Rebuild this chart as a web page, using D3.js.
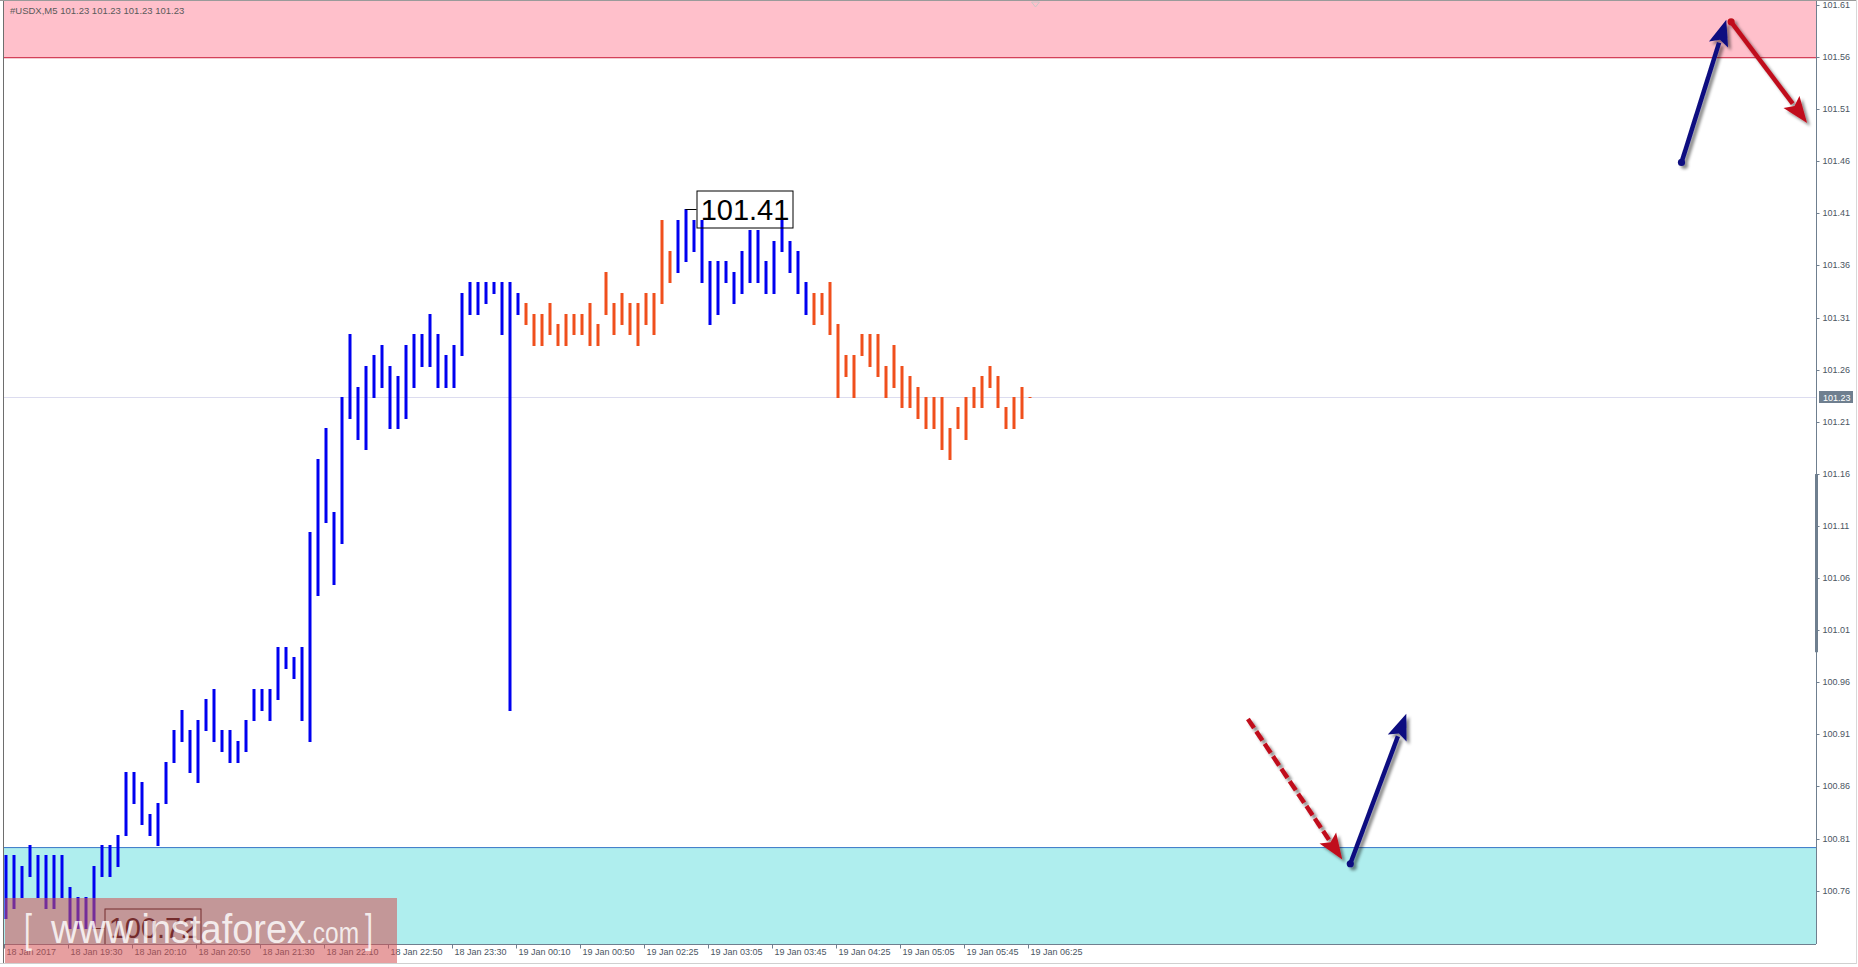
<!DOCTYPE html>
<html><head><meta charset="utf-8">
<script src="https://cdn.jsdelivr.net/npm/d3@7"></script>
<style>html,body{margin:0;padding:0;background:#fff;overflow:hidden}</style>
</head><body>
<svg id="c" width="1858" height="967"></svg>
<script>
// ---------- DATA ----------
const symbolTitle = "#USDX,M5  101.23 101.23 101.23 101.23";
const barHigh = [100.79,100.79,100.78,100.80,100.79,100.79,100.79,100.79,100.76,100.75,100.75,100.78,100.80,100.80,100.81,100.87,100.87,100.86,100.83,100.84,100.88,100.91,100.93,100.91,100.92,100.94,100.95,100.91,100.91,100.90,100.92,100.95,100.95,100.95,100.99,100.99,100.98,100.99,101.10,101.17,101.20,101.12,101.23,101.29,101.24,101.26,101.27,101.28,101.26,101.25,101.28,101.29,101.29,101.31,101.29,101.27,101.28,101.33,101.34,101.34,101.34,101.34,101.34,101.34,101.33,101.32,101.31,101.31,101.32,101.30,101.31,101.31,101.31,101.32,101.30,101.35,101.32,101.33,101.32,101.32,101.33,101.33,101.40,101.37,101.40,101.41,101.40,101.40,101.36,101.36,101.36,101.35,101.37,101.39,101.39,101.36,101.38,101.40,101.38,101.37,101.34,101.33,101.33,101.34,101.30,101.27,101.27,101.29,101.29,101.29,101.26,101.28,101.26,101.25,101.24,101.23,101.23,101.23,101.20,101.22,101.23,101.24,101.25,101.26,101.25,101.22,101.23,101.24,101.23];
const barLow = [100.73,100.74,100.75,100.77,100.75,100.74,100.74,100.75,100.72,100.72,100.72,100.72,100.77,100.77,100.78,100.81,100.84,100.82,100.81,100.80,100.84,100.88,100.90,100.87,100.86,100.91,100.90,100.89,100.88,100.88,100.89,100.92,100.93,100.92,100.94,100.97,100.96,100.92,100.90,101.04,101.11,101.05,101.09,101.21,101.19,101.18,101.23,101.24,101.20,101.20,101.21,101.24,101.26,101.26,101.24,101.24,101.24,101.27,101.31,101.31,101.32,101.33,101.29,100.93,101.31,101.30,101.28,101.28,101.29,101.28,101.28,101.29,101.29,101.28,101.28,101.31,101.29,101.30,101.29,101.28,101.30,101.29,101.32,101.34,101.35,101.36,101.37,101.34,101.30,101.31,101.34,101.32,101.33,101.34,101.34,101.33,101.33,101.37,101.35,101.33,101.31,101.30,101.31,101.29,101.23,101.25,101.23,101.27,101.26,101.25,101.23,101.24,101.22,101.22,101.21,101.20,101.20,101.18,101.17,101.20,101.19,101.22,101.22,101.24,101.22,101.20,101.20,101.21,101.23];
// wave segments: first bar index of each segment and its direction
const waveStart = [0, 65, 84, 101];
const waveDir = ["up", "down", "up", "down"];
const timeTickBars = [0,8,16,24,32,40,48,56,64,72,80,88,96,104,112,120,128];
const timeTickLabels = ["18 Jan 2017","18 Jan 19:30","18 Jan 20:10","18 Jan 20:50","18 Jan 21:30","18 Jan 22:10","18 Jan 22:50","18 Jan 23:30","19 Jan 00:10","19 Jan 00:50","19 Jan 02:25","19 Jan 03:05","19 Jan 03:45","19 Jan 04:25","19 Jan 05:05","19 Jan 05:45","19 Jan 06:25"];
const priceTicks = [101.61,101.56,101.51,101.46,101.41,101.36,101.31,101.26,101.21,101.16,101.11,101.06,101.01,100.96,100.91,100.86,100.81,100.76];
const lastPrice = 101.23;
const scaleMarker = [100.985, 101.156];
const resistanceZone = [101.556, 101.62];
const supportZone = [100.70, 100.798];
// price callouts: [bar index, price]
const callouts = [[85, 101.41], [11, 100.72]];
// forecast arrows: [barFrom, priceFrom, barTo, priceTo, direction, dashed]
const forecastArrows = [
  [155.3, 100.921, 167.1, 100.786, "down", true],
  [168.1, 100.782, 175.1, 100.926, "up", false],
  [209.5, 101.455, 215.1, 101.592, "up", false],
  [215.7, 101.590, 225.2, 101.493, "down", false]
];
const watermarkParts = ["[", "www.instaforex", ".com", "]"];

// ---------- LAYOUT ----------
const W = 1858, H = 967;
const plot = {l: 4, r: 1816, t: 1, b: 944};
const x = d3.scaleLinear().domain([0, 128]).range([5.5, 5.5 + 8*128]);
const y = d3.scaleLinear().domain([100.705, 101.609]).range([944, 2]);
const colUp = "#0000f0", colDown = "#f04f1c";
const FONT = "'Liberation Sans',Arial,sans-serif";

const svg = d3.select("#c");
const defs = svg.append("defs");
const clip = defs.append("clipPath").attr("id","plotclip");
clip.append("rect").attr("x",plot.l).attr("y",plot.t).attr("width",plot.r-plot.l).attr("height",plot.b-plot.t);
const sh = defs.append("filter").attr("id","shadow").attr("x","-20%").attr("y","-20%").attr("width","140%").attr("height","140%");
sh.append("feDropShadow").attr("dx",3).attr("dy",3).attr("stdDeviation",1.6).attr("flood-color","#000").attr("flood-opacity",0.45);

svg.append("rect").attr("width",W).attr("height",H).attr("fill","#fff");

const g = svg.append("g").attr("clip-path","url(#plotclip)");

// zones
g.append("rect").attr("x",plot.l).attr("width",plot.r-plot.l)
  .attr("y",y(resistanceZone[1])).attr("height",y(resistanceZone[0])-y(resistanceZone[1]))
  .attr("fill","#ffc0cb");
g.append("line").attr("x1",plot.l).attr("x2",plot.r).attr("y1",y(resistanceZone[0])+0.5).attr("y2",y(resistanceZone[0])+0.5)
  .attr("stroke","#c8102e").attr("stroke-width",1);
g.append("rect").attr("x",plot.l).attr("width",plot.r-plot.l)
  .attr("y",y(supportZone[1])).attr("height",y(supportZone[0])-y(supportZone[1]))
  .attr("fill","#afeeee");
g.append("line").attr("x1",plot.l).attr("x2",plot.r).attr("y1",y(supportZone[1])+0.5).attr("y2",y(supportZone[1])+0.5)
  .attr("stroke","#3c78c8").attr("stroke-width",1);

// last price line
g.append("line").attr("x1",plot.l).attr("x2",plot.r).attr("y1",Math.round(y(lastPrice))+0.5).attr("y2",Math.round(y(lastPrice))+0.5)
  .attr("stroke","#dcdcef").attr("stroke-width",1);

// chart shift marker
g.append("path").attr("d",`M${x(128)+2},2 L${x(128)+10},2 L${x(128)+6},7 Z`).attr("fill","none").attr("stroke","#c8c8c8");

// bars
function dirOf(i){ let d = waveDir[0]; waveStart.forEach((s,k)=>{ if(i>=s) d = waveDir[k]; }); return d; }
g.append("g").selectAll("rect").data(barHigh.map((h,i)=>({i,h,l:barLow[i]}))).join("rect")
  .attr("x",d=>Math.round(x(d.i))-1.5)
  .attr("width",3)
  .attr("y",d=>Math.round(y(d.h)))
  .attr("height",d=>Math.max(1, Math.round(y(d.l))-Math.round(y(d.h))+1))
  .attr("fill",d=>dirOf(d.i)==="up"?colUp:colDown);

// callouts
callouts.forEach(([bi, p])=>{
  const bx = x(bi), by = Math.round(y(p))+0.5;
  const boxX = bx + 11, boxW = 96, boxH = 37;
  const boxY = p > 101 ? by - 18.5 : by - 19.5;
  g.append("line").attr("x1",bx).attr("x2",boxX).attr("y1",by).attr("y2",by).attr("stroke","#000").attr("stroke-width",1);
  g.append("rect").attr("x",boxX+0.5).attr("y",boxY).attr("width",boxW).attr("height",boxH)
    .attr("fill","none").attr("stroke","#000").attr("stroke-width",1);
  g.append("text").attr("x",boxX+boxW/2+0.5).attr("y",boxY+boxH/2+10.5).attr("text-anchor","middle")
    .attr("font-family",FONT).attr("font-size",29).attr("fill","#000").text(p.toFixed(2));
});

// forecast arrows
const arrowG = svg.append("g");
forecastArrows.forEach(([b1,p1,b2,p2,dir,dashed])=>{
  const col = dir==="up" ? "#101080" : "#c0101c";
  const x1 = x(b1), y1 = y(p1), x2 = x(b2), y2 = y(p2);
  const dx = x2-x1, dy = y2-y1, len = Math.hypot(dx,dy), ux = dx/len, uy = dy/len;
  const hl = 26, hw = 20;
  const bxp = x2 - ux*hl, byp = y2 - uy*hl;
  const a = arrowG.append("g").attr("filter","url(#shadow)");
  a.append("line").attr("x1",x1).attr("y1",y1).attr("x2",bxp+ux*2).attr("y2",byp+uy*2)
    .attr("stroke",col).attr("stroke-width",4.5).attr("stroke-dasharray",dashed?"11,4":null);
  a.append("path").attr("d",`M${x2},${y2} L${bxp - uy*hw/2},${byp + ux*hw/2} L${bxp + ux*5},${byp + uy*5} L${bxp + uy*hw/2},${byp - ux*hw/2} Z`)
    .attr("fill",col);
  if(!dashed) a.append("circle").attr("cx",x1).attr("cy",y1).attr("r",3.6).attr("fill",col);
});

// frame
svg.append("line").attr("x1",3.5).attr("x2",3.5).attr("y1",0).attr("y2",963).attr("stroke","#6e6e6e");
svg.append("line").attr("x1",0).attr("x2",1857).attr("y1",0.5).attr("y2",0.5).attr("stroke","#9a9a9a");
svg.append("line").attr("x1",0).attr("x2",1857).attr("y1",963.5).attr("y2",963.5).attr("stroke","#d0d0d0");
svg.append("line").attr("x1",1856.5).attr("x2",1856.5).attr("y1",0).attr("y2",964).attr("stroke","#d8d8d8");

// y axis
const yAx = svg.append("g").attr("transform",`translate(${plot.r+0.5},0)`)
  .call(d3.axisRight(y).tickValues(priceTicks).tickSize(3).tickPadding(3).tickFormat(d3.format(".2f")));
yAx.select(".domain").attr("stroke","#6f7f8f").attr("d",`M0,${plot.t}V${plot.b}`);
yAx.selectAll(".tick").attr("transform",d=>`translate(0,${Math.round(y(d))+4.5})`);
yAx.selectAll(".tick line").attr("stroke","#6f7f8f");
yAx.selectAll(".tick text").attr("font-family",FONT).attr("font-size",9).attr("fill","#4a5562");
// scale marker bar
svg.append("line").attr("x1",plot.r+0.5).attr("x2",plot.r+0.5).attr("y1",y(scaleMarker[1])).attr("y2",y(scaleMarker[0])).attr("stroke","#6f7f8f").attr("stroke-width",3);
// last price label
const lp = svg.append("g").attr("transform",`translate(${plot.r+3},${Math.round(y(lastPrice))})`);
lp.append("rect").attr("x",0).attr("y",-6).attr("width",34).attr("height",12).attr("fill","#6f7f8f");
lp.append("text").attr("x",4).attr("y",3.5).attr("font-family",FONT).attr("font-size",9).attr("fill","#fff").text(lastPrice.toFixed(2));

// x axis
const xAx = svg.append("g").attr("transform",`translate(0,${plot.b+0.5})`)
  .call(d3.axisBottom(x).tickValues(timeTickBars).tickSize(4).tickFormat((d,i)=>timeTickLabels[i]));
xAx.select(".domain").attr("stroke","#6f7f8f").attr("d",`M${plot.l},0H${plot.r}`);
xAx.selectAll(".tick").attr("transform",d=>`translate(${Math.round(x(d))-1.5},0)`);
xAx.selectAll(".tick line").attr("stroke","#6f7f8f");
xAx.selectAll(".tick text").attr("text-anchor","start").attr("x",2).attr("y",4).attr("dy","0.71em")
  .attr("font-family",FONT).attr("font-size",9).attr("fill","#4a5562");

// title
svg.append("text").attr("x",10).attr("y",13.5).attr("font-family",FONT)
  .attr("font-size",9.5).attr("fill","#5a5a5a").text(symbolTitle);

// watermark
const wm = svg.append("g");
wm.append("rect").attr("x",5).attr("y",898).attr("width",392).attr("height",65).attr("fill","rgba(212,80,82,0.55)");
const wmStyle = [[24, 40, 8], [51, 40, 255], [306, 29, 53], [365, 40, 8]];
watermarkParts.forEach((t,k)=>{
  const [px, fs, tl] = wmStyle[k];
  wm.append("text").attr("x",px).attr("y",943).attr("font-family",FONT).attr("font-size",fs)
    .attr("textLength",tl).attr("lengthAdjust","spacingAndGlyphs")
    .attr("fill","rgba(255,255,255,0.82)").text(t);
});
</script>
</body></html>
